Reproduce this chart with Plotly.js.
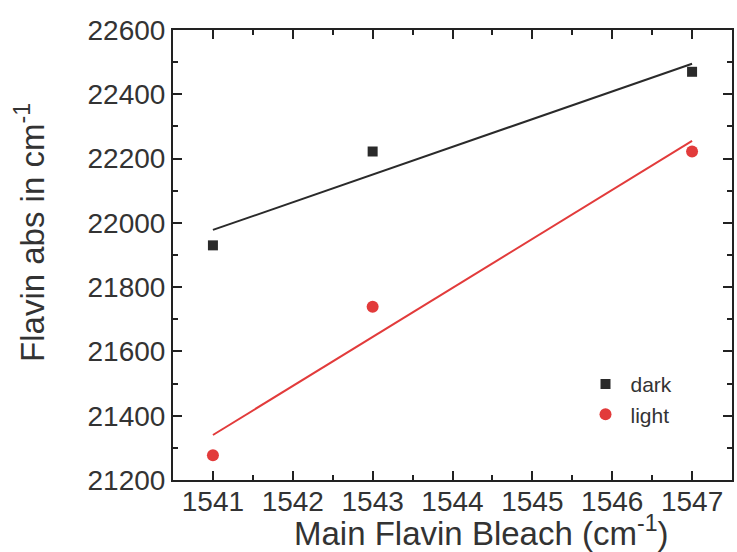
<!DOCTYPE html>
<html>
<head>
<meta charset="utf-8">
<script src="https://cdn.plot.ly/plotly-3.0.1.min.js"></script>
<style>html,body{margin:0;padding:0;background:#fff;}#chart{width:737px;height:552px;}</style>
</head>
<body>
<div id="chart"></div>
<script>
// Data
const bleach = [1541, 1543, 1547];
const darkAbs = [21930, 22222, 22470];
const lightAbs = [21277, 21739, 22222];
const fitX = [1541, 1547];
const darkFit = [21978, 22495];
const lightFit = [21340, 22255];
const xTitle = 'Main Flavin Bleach (cm<sup>-1</sup>)';
const yTitle = 'Flavin abs in cm<sup>-1</sup>';

const FONT = 'Liberation Sans, Arial, sans-serif';
const TXT = '#333333';
const DARK = '#2a2a2a';
const RED = '#e23b3b';

const traces = [
  {x: fitX, y: darkFit, mode: 'lines', line: {color: DARK, width: 2}, showlegend: false, hoverinfo: 'skip'},
  {x: fitX, y: lightFit, mode: 'lines', line: {color: RED, width: 2}, showlegend: false, hoverinfo: 'skip'},
  {x: bleach, y: darkAbs, mode: 'markers', name: 'dark',
   marker: {symbol: 'square', size: 10, color: DARK}},
  {x: bleach, y: lightAbs, mode: 'markers', name: 'light',
   marker: {symbol: 'circle', size: 12, color: RED}}
];

const axisCommon = {
  showgrid: false, zeroline: false,
  showline: true, linecolor: '#222', linewidth: 2, mirror: 'ticks',
  ticks: 'inside', tickcolor: '#222', tickwidth: 2, ticklen: 9,
  tickfont: {family: FONT, size: 28, color: TXT},
  tickformat: 'd', automargin: false
};

const layout = {
  width: 737, height: 552,
  margin: {l: 173, r: 5, t: 30, b: 72},
  paper_bgcolor: '#fff', plot_bgcolor: '#fff',
  font: {family: FONT, color: TXT},
  showlegend: true,
  legend: {x: 0.729, y: 0.258, xanchor: 'left', yanchor: 'top', itemwidth: 40,
           bgcolor: 'rgba(0,0,0,0)', font: {family: FONT, size: 21, color: TXT},
           tracegroupgap: 0},
  xaxis: Object.assign({}, axisCommon, {
    range: [1540.5, 1547.5], tickmode: 'linear', tick0: 1541, dtick: 1,
    ticklabelstandoff: -5,
    minor: {dtick: 0.5, tick0: 1541, ticks: 'inside', ticklen: 5, tickwidth: 2, tickcolor: '#222'}
  }),
  yaxis: Object.assign({}, axisCommon, {
    range: [21200, 22600], tickmode: 'linear', tick0: 21200, dtick: 200,
    minor: {dtick: 100, ticks: 'inside', ticklen: 5, tickwidth: 2, tickcolor: '#222'}
  }),
  annotations: [
    {text: xTitle, xref: 'paper', yref: 'paper', x: 0.5527, y: -0.113,
     xanchor: 'center', yanchor: 'middle', showarrow: false,
     font: {family: FONT, size: 33, color: TXT}},
    {text: yTitle, xref: 'paper', yref: 'paper', x: -0.255, y: 0.55,
     xanchor: 'center', yanchor: 'middle', textangle: -90, showarrow: false,
     font: {family: FONT, size: 33, color: TXT}}
  ]
};

Plotly.newPlot('chart', traces, layout, {displayModeBar: false, staticPlot: true});
</script>
</body>
</html>
